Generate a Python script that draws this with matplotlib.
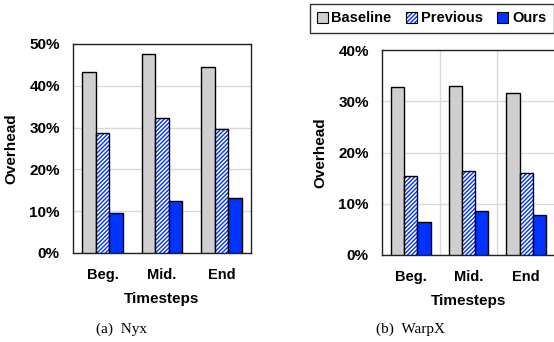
import matplotlib
matplotlib.use("Agg")
import matplotlib.pyplot as plt
import numpy as np
from matplotlib.patches import Patch
from matplotlib.ticker import FuncFormatter
from matplotlib.colors import to_rgba

categories = ["Beg.", "Mid.", "End"]
series = ["Baseline", "Previous", "Ours"]
nyx_baseline = [43.2, 47.6, 44.6]
nyx_previous = [28.7, 32.4, 29.6]
nyx_ours = [9.6, 12.5, 13.2]
warpx_baseline = [32.7, 33.05, 31.7]
warpx_previous = [15.45, 16.3, 16.0]
warpx_ours = [6.4, 8.6, 7.9]

FONT = "Liberation Sans"
BLUE = "#0033FF"
colors = ["#D0CECE", "white", BLUE]
hatches = [None, "////////", None]
plt.rcParams['hatch.linewidth'] = 1.0

fig = plt.figure(figsize=(5.54, 3.42), dpi=100)

def draw(ax, data, ymax, vgrid):
    x = np.arange(len(categories))
    w = 0.23
    for i, vals in enumerate(data):
        bars = ax.bar(x + (i - 1) * w, vals, w, color=colors[i], edgecolor="black",
                      linewidth=1.0, hatch=hatches[i], zorder=3)
        if hatches[i]:
            for b in bars:
                b._hatch_color = to_rgba(BLUE)
    ax.set_xlim(-0.5, 2.5)
    ax.set_ylim(0, ymax)
    ax.set_yticks(np.arange(0, ymax + 1, 10))
    ax.yaxis.set_major_formatter(FuncFormatter(lambda v, p: f"{int(v)}%"))
    ax.set_xticks(x)
    ax.set_xticklabels(categories)
    ax.grid(axis="y", color="#D9D9D9", linewidth=1.0, zorder=0)
    if vgrid:
        ax.set_xticks([0.5, 1.5], minor=True)
        ax.grid(axis="x", which="minor", color="#D9D9D9", linewidth=1.0, zorder=0)
    ax.tick_params(axis="both", which="both", length=0)
    ax.tick_params(axis="x", pad=11, labelsize=10.5)
    ax.tick_params(axis="y", pad=9.5, labelsize=11)
    for lab in ax.get_xticklabels() + ax.get_yticklabels():
        lab.set_fontfamily(FONT)
        lab.set_fontweight("bold")
    for s in ax.spines.values():
        s.set_linewidth(1.0)
        s.set_color("#222222")
    ax.set_ylabel("Overhead", fontfamily=FONT, fontweight="bold", fontsize=11, labelpad=8)
    ax.set_xlabel("Timesteps", fontfamily=FONT, fontweight="bold", fontsize=11, labelpad=7)
    ax.set_axisbelow(True)

ax1 = fig.add_axes([73 / 554, 89 / 342, 178 / 554, 209 / 342])
draw(ax1, [nyx_baseline, nyx_previous, nyx_ours], 50, False)
ax2 = fig.add_axes([382 / 554, 87 / 342, 173 / 554, 205 / 342])
draw(ax2, [warpx_baseline, warpx_previous, warpx_ours], 40, True)

handles = [Patch(facecolor=colors[i], edgecolor="black", hatch=hatches[i], linewidth=0.8)
           for i in range(3)]
leg = fig.legend(handles, series, loc="upper right", bbox_to_anchor=(553.5 / 554, 1 - 4 / 342),
                 ncol=3, frameon=True, fancybox=False, edgecolor="black",
                 prop={"family": FONT, "weight": "bold", "size": 10.5},
                 handlelength=0.75, handleheight=0.75, handletextpad=0.25,
                 columnspacing=1.0, borderpad=0.5, borderaxespad=0)
leg.get_frame().set_linewidth(1.0)
for h in leg.legend_handles:
    if h.get_hatch():
        h._hatch_color = to_rgba(BLUE)

fig.text(122 / 554, 1 - 329 / 342, "(a)  Nyx", ha="center", va="center",
         fontfamily="Liberation Serif", fontsize=11)
fig.text(410 / 554, 1 - 329 / 342, "(b)  WarpX", ha="center", va="center",
         fontfamily="Liberation Serif", fontsize=11)

fig.savefig("out.png", dpi=100)
